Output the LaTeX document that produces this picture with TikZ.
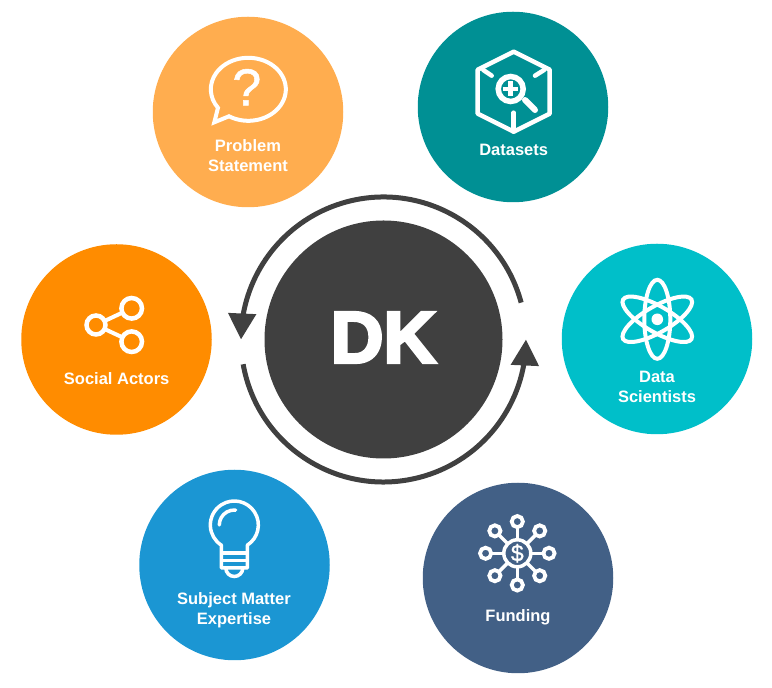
\documentclass[tikz,border=0pt]{standalone}
\usepackage{fontspec}
\setmainfont{Liberation Sans}
\newfontfamily\dkfont[FakeBold=4]{Liberation Sans Bold}
\newfontfamily\iconfont[FakeBold=1]{Liberation Sans}
\usetikzlibrary{arrows.meta,bending,calc}
\definecolor{problemcol}{HTML}{FFAD4F}
\definecolor{datasetcol}{HTML}{009094}
\definecolor{scientistcol}{HTML}{00BFC9}
\definecolor{fundingcol}{HTML}{426086}
\definecolor{expertcol}{HTML}{1B96D3}
\definecolor{socialcol}{HTML}{FF8C00}
\definecolor{dkcol}{HTML}{404040}
\tikzset{
  topic/.style={circle,minimum size=190.5pt,inner sep=0pt},
  toplabel/.style={text=white,align=center,inner sep=0pt,font=\fontsize{16.5}{20}\selectfont\bfseries},
  icon/.style={draw=white,line width=3.5pt},
  cyclearrow/.style={draw=dkcol,line width=5pt,-{Triangle[width=27pt,length=26pt,flex=0.5]}},
}
\begin{document}
\begin{tikzpicture}[x=1pt,y=1pt]
    \useasboundingbox (0,0) rectangle (772,688);
    \node[topic,fill=problemcol] (problem) at (248,576) {};
    \node[topic,fill=datasetcol] (datasets) at (513,581) {};
    \node[topic,fill=scientistcol] (scientists) at (657,349) {};
    \node[topic,fill=fundingcol] (funding) at (518,110) {};
    \node[topic,fill=expertcol] (expertise) at (234.5,123) {};
    \node[topic,fill=socialcol] (social) at (116.5,348.5) {};
    \node[circle,fill=dkcol,minimum size=238pt,inner sep=0pt,text=white,font=\fontsize{73}{73}\selectfont\dkfont] (dk) at (383.5,348.5) {\raisebox{4pt}{DK}};
    % the two arcs round the centre
    \coordinate (arctop) at ($(dk.center)+(15:142.5pt)$);
    \coordinate (arcbottom) at ($(dk.center)+(190:142.5pt)$);
    \draw[cyclearrow] (arctop) arc[start angle=15,end angle=180,radius=142.5pt];
    \draw[cyclearrow] (arcbottom) arc[start angle=190,end angle=360,radius=142.5pt];
    % labels
    \node[toplabel] (problemtext) at (248,532.5) {Problem\\Statement};
    \node[toplabel] (datasetstext) at (513.7,538) {Datasets};
    \node[toplabel] (scientiststext) at (657,301.5) {Data\\Scientists};
    \node[toplabel] (fundingtext) at (518,71) {Funding};
    \node[toplabel] (expertisetext) at (234,78) {Subject Matter\\Expertise};
    \node[toplabel] (socialtext) at (116.7,309) {Social Actors};
    % speech bubble
    \begin{scope}[shift={(248.3,598.7)}]
      \draw[icon,line width=4pt] (-19.3,-27) arc[start angle=239,end angle=576,x radius=37.5pt,y radius=31.5pt] -- (-34,-33) -- cycle;
      \node[text=white,inner sep=0pt,font=\fontsize{52}{52}\selectfont\iconfont] (question) at (-1.5,2) {?};
    \end{scope}
    % hexagon and lens
    \begin{scope}[shift={(513.7,596.3)}]
      \draw[icon,line width=4.5pt,line join=round] (0,40)--(36,22)--(36,-22)--(0,-40)--(-36,-22)--(-36,22)--cycle;
      \draw[icon,line width=4.5pt,line cap=round] (-30.4,21.7)--(-22,16);
      \draw[icon,line width=4.5pt,line cap=round] (30.4,21.7)--(21.3,16);
      \draw[icon,line width=4.5pt,line cap=round] (0,-40)--(0,-21);
      \draw[icon,line width=5.5pt] (-3,2.7) circle (12.5pt);
      \draw[icon,line width=4.5pt] (-10.5,2.7)--(4.5,2.7);
      \draw[icon,line width=4.5pt] (-3,10.2)--(-3,-4.8);
      \draw[icon,line width=6pt,line cap=round] (11.3,-8.3)--(21.3,-18.3);
    \end{scope}
    % atom
    \begin{scope}[shift={(657.3,368.7)}]
      \foreach \ang in {0,60,120}
        \draw[icon,line width=4pt,rotate=\ang] (0,0) ellipse (13pt and 39.5pt);
      \fill[white] (0,0) circle (5.8pt);
    \end{scope}
    % network with the dollar sign
    \begin{scope}[shift={(517.3,134.7)}]
      \draw[icon] (0,0) circle (13.5pt);
      \foreach \ang in {0,45,...,315} {
        \draw[icon] (\ang:13.5pt)--(\ang:26pt);
        \draw[icon,line width=3.8pt] (\ang:31.7pt) circle (5.6pt);
      }
      \node[text=white,inner sep=0pt,font=\fontsize{23}{23}\selectfont\iconfont] (dollar) at (0,0) {\$};
    \end{scope}
    % bulb
    \begin{scope}[shift={(234.3,163)}]
      \draw[icon,line join=round] (13,-20.2) arc[start angle=-57.3,end angle=237.3,radius=24pt] -- (-13,-43) -- (13,-43) -- cycle;
      \draw[icon,line cap=round] (-15,0) arc[start angle=180,end angle=85,radius=15pt];
      \draw[icon] (-13,-28) -- (13,-28);
      \draw[icon] (-13,-35.5) -- (13,-35.5);
      \draw[icon] (-8.5,-43) arc[start angle=180,end angle=360,radius=8.5pt];
    \end{scope}
    % share links
    \coordinate (shareleft) at (96,363);
    \coordinate (sharetop) at (131.7,379.7);
    \coordinate (sharebottom) at (131.7,346.3);
    \draw[icon,line width=4pt] (shareleft) -- (sharetop);
    \draw[icon,line width=4pt] (shareleft) -- (sharebottom);
    \draw[icon,line width=4.5pt,fill=socialcol] (shareleft) circle (9.5pt);
    \draw[icon,line width=4.5pt,fill=socialcol] (sharetop) circle (10.3pt);
    \draw[icon,line width=4.5pt,fill=socialcol] (sharebottom) circle (10.3pt);
  \end{tikzpicture}
\end{document}
